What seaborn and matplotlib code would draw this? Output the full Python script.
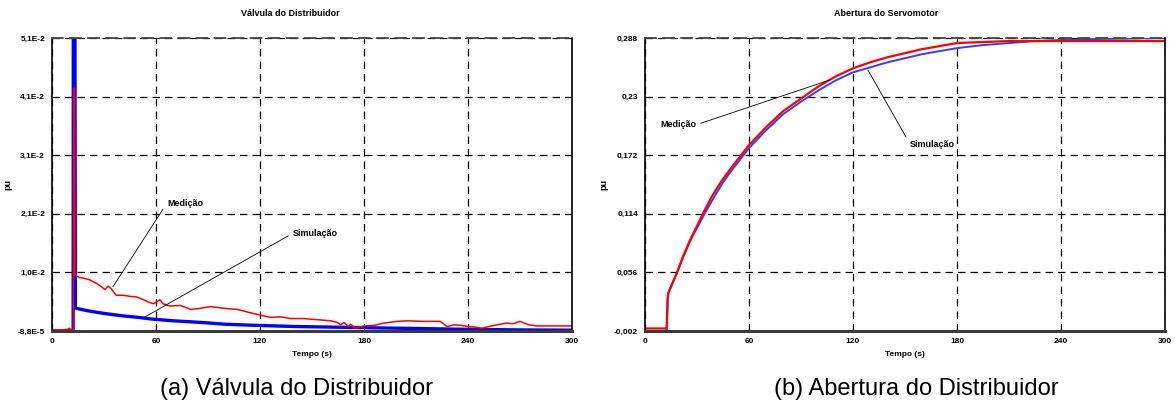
import matplotlib
matplotlib.use("Agg")
import matplotlib.pyplot as plt
import seaborn as sns
import pandas as pd

# ---------------- data ----------------
# Panel (a) Válvula do Distribuidor
t_med_a = [0, 5, 9, 10, 11, 12.4, 12.6, 13.0, 13.3, 14, 16, 18, 21.7, 25.6, 28.5, 30.5,
           32.4, 34, 37, 41, 45, 48.8, 52.7, 56.5, 58.5, 62.3, 64, 68, 74, 80, 85.6,
           91.5, 99, 107, 114.6, 120.4, 126, 132, 137.7, 145, 153, 161, 164.6, 166.5,
           168.5, 171, 172.3, 175, 180, 186, 191.5, 199, 205, 215, 224, 228, 232, 236,
           240, 244, 248, 255, 262, 266, 270, 275, 280, 290, 300]
v_med_a = [0.0001, 0.0001, 0.0002, 0.0004, 0.0001, 0.0001, 0.0426, 0.0426, 0.0100, 0.0096,
           0.0093, 0.0092, 0.0089, 0.0083, 0.0077, 0.0072, 0.0078, 0.0074, 0.0062, 0.0062,
           0.0060, 0.0059, 0.0054, 0.0049, 0.0047, 0.0054, 0.0047, 0.0043, 0.0044, 0.0037,
           0.0039, 0.0042, 0.0039, 0.0037, 0.0031, 0.0027, 0.0023, 0.0024, 0.0021, 0.0021,
           0.0019, 0.0017, 0.0014, 0.0010, 0.0014, 0.0007, 0.0011, 0.0004, 0.0008, 0.0009,
           0.0013, 0.0016, 0.0017, 0.0016, 0.0016, 0.0007, 0.0010, 0.0009, 0.0007, 0.0006,
           0.0004, 0.0009, 0.0013, 0.0012, 0.0016, 0.0010, 0.0008, 0.0008, 0.0008]
t_sim_a = [0, 12.2, 12.3, 13.2, 13.5, 14, 20, 30, 40, 50, 58, 70, 87, 100, 118, 140, 160,
           180, 200, 220, 240, 270, 300]
v_sim_a = [-0.00005, -0.00005, 0.06, 0.06, 0.0040, 0.0039, 0.0035, 0.0030, 0.0026, 0.0023,
           0.0020, 0.0017, 0.0014, 0.0011, 0.0009, 0.0007, 0.0006, 0.0005, 0.0004, 0.0003,
           0.0002, 0.0001, 0.00005]
yticks_a = [-0.000088, 0.0102, 0.0205, 0.0308, 0.0411, 0.0514]
yticklabels_a = ["-8,8E-5", "1,0E-2", "2,1E-2", "3,1E-2", "4,1E-2", "5,1E-2"]

# Panel (b) Abertura do Servomotor
t_med_b = [0, 12.5, 13.0, 13.3, 16, 18.3, 22, 26, 30, 33.5, 38.5, 44, 50, 55, 60, 70, 80,
           90, 100, 110, 120, 130, 140, 150, 160, 170, 180, 195, 210, 240, 270, 300]
v_med_b = [0.0005, 0.0005, 0.030, 0.035, 0.046, 0.055, 0.072, 0.088, 0.102, 0.1145, 0.131,
           0.146, 0.160, 0.171, 0.182, 0.200, 0.216, 0.228, 0.240, 0.250, 0.258, 0.264,
           0.269, 0.273, 0.277, 0.280, 0.283, 0.284, 0.285, 0.285, 0.285, 0.285]
t_sim_b = [0, 12.5, 13.2, 13.6, 16, 18, 22, 26, 30, 35, 40, 45, 50, 55, 60, 70, 80, 90,
           100, 110, 120, 130, 140, 150, 160, 170, 180, 195, 210, 225, 240, 260, 280, 300]
v_sim_b = [-0.002, -0.002, 0.030, 0.036, 0.046, 0.054, 0.071, 0.087, 0.100, 0.116, 0.131,
           0.145, 0.157, 0.168, 0.179, 0.197, 0.213, 0.225, 0.236, 0.246, 0.254, 0.259,
           0.264, 0.268, 0.272, 0.275, 0.278, 0.281, 0.283, 0.285, 0.286, 0.287, 0.2875, 0.288]
yticks_b = [-0.002, 0.056, 0.114, 0.172, 0.23, 0.288]
yticklabels_b = ["-0,002", "0,056", "0,114", "0,172", "0,23", "0,288"]

xticks = [0, 60, 120, 180, 240, 300]
titles = ["Válvula do Distribuidor", "Abertura do Servomotor"]
captions = ["(a) Válvula do Distribuidor", "(b) Abertura do Distribuidor"]
series_names = ["Medição", "Simulação"]

# ---------------- style ----------------
sns.set_style("white")
plt.rcParams["font.family"] = ["Liberation Sans", "DejaVu Sans"]
plt.rcParams["text.color"] = "black"
plt.rcParams["axes.labelcolor"] = "black"
plt.rcParams["xtick.color"] = "black"
plt.rcParams["ytick.color"] = "black"

fig = plt.figure(figsize=(11.75, 4.03), dpi=100)
ax_a = fig.add_axes([52 / 1175, 1 - 331 / 403, 520 / 1175, 293 / 403])
ax_b = fig.add_axes([645 / 1175, 1 - 331 / 403, 520 / 1175, 293 / 403])


def style_axes(ax, yticks, ylabels, ylabel_x):
    ax.set_xlim(0, 300)
    ax.set_ylim(yticks[0], yticks[-1])
    ax.set_xticks(xticks)
    ax.set_xticklabels([str(x) for x in xticks], fontsize=6, fontweight="bold")
    ax.set_yticks(yticks)
    ax.set_yticklabels(ylabels, fontsize=6, fontweight="bold")
    ax.tick_params(axis="both", direction="out", length=3, width=0.8, pad=2,
                   color="black", labelcolor="black")
    ax.grid(True, color="black", linestyle=(0, (6, 4)), linewidth=0.9)
    for side in ["left", "right"]:
        ax.spines[side].set_visible(True)
        ax.spines[side].set_color("black")
        ax.spines[side].set_linewidth(1.2)
    ax.spines["bottom"].set_visible(True)
    ax.spines["bottom"].set_color("#3a3a3a")
    ax.spines["bottom"].set_linewidth(2.2)
    ax.spines["top"].set_visible(True)
    ax.spines["top"].set_color("#444444")
    ax.spines["top"].set_linestyle((0, (6, 4)))
    ax.spines["top"].set_linewidth(1.3)
    ax.set_xlabel("Tempo (s)", fontsize=6, fontweight="bold", labelpad=4, color="black")
    ax.set_ylabel("pu", fontsize=6.5, fontweight="bold", color="black")
    ax.yaxis.set_label_coords(ylabel_x, 0.5)


# panel a
df_sim_a = pd.DataFrame({"t": t_sim_a, "v": v_sim_a})
df_med_a = pd.DataFrame({"t": t_med_a, "v": v_med_a})
sns.lineplot(data=df_sim_a, x="t", y="v", ax=ax_a, sort=False, estimator=None,
             color="#0000ff", linewidth=2.4)
sns.lineplot(data=df_med_a, x="t", y="v", ax=ax_a, sort=False, estimator=None,
             color="#ff0000", linewidth=1.1)
style_axes(ax_a, yticks_a, yticklabels_a, -0.077)

ax_a.annotate(series_names[0], xy=(35.2, 0.0077), xytext=(66.3, 0.0224),
              fontsize=6.5, fontweight="bold", ha="left", va="center", color="black",
              arrowprops=dict(arrowstyle="-", color="black", lw=0.6,
                              shrinkA=1, shrinkB=0, relpos=(0, 0.5)))
ax_a.annotate(series_names[1], xy=(53.7, 0.0024), xytext=(139.0, 0.0171),
              fontsize=6.5, fontweight="bold", ha="left", va="center", color="black",
              arrowprops=dict(arrowstyle="-", color="black", lw=0.6,
                              shrinkA=1, shrinkB=0, relpos=(0, 0.5)))

# panel b
df_sim_b = pd.DataFrame({"t": t_sim_b, "v": v_sim_b})
df_med_b = pd.DataFrame({"t": t_med_b, "v": v_med_b})
sns.lineplot(data=df_sim_b, x="t", y="v", ax=ax_b, sort=False, estimator=None,
             color="#3a3aff", linewidth=1.4)
sns.lineplot(data=df_med_b, x="t", y="v", ax=ax_b, sort=False, estimator=None,
             color="#ff0000", linewidth=1.6)
style_axes(ax_b, yticks_b, yticklabels_b, -0.071)

ax_b.annotate(series_names[0], xy=(106.7, 0.2465), xytext=(29.4, 0.202),
              fontsize=6.5, fontweight="bold", ha="right", va="center", color="black",
              arrowprops=dict(arrowstyle="-", color="black", lw=0.6,
                              shrinkA=1, shrinkB=0, relpos=(1, 0.5)))
ax_b.annotate(series_names[1], xy=(128.7, 0.256), xytext=(152.9, 0.183),
              fontsize=6.5, fontweight="bold", ha="left", va="center", color="black",
              arrowprops=dict(arrowstyle="-", color="black", lw=0.6,
                              shrinkA=1, shrinkB=0, relpos=(0, 0.5)))

# titles and captions
fig.text(290 / 1175, 1 - 14 / 403, titles[0], fontsize=6.5, fontweight="bold",
         ha="center", va="center", color="black")
fig.text(886 / 1175, 1 - 14 / 403, titles[1], fontsize=6.5, fontweight="bold",
         ha="center", va="center", color="black")
fig.text(296.5 / 1175, 1 - 395 / 403, captions[0], fontsize=17, ha="center",
         va="baseline", color="black")
fig.text(916.5 / 1175, 1 - 395 / 403, captions[1], fontsize=17, ha="center",
         va="baseline", color="black")

fig.savefig("out.png", dpi=100)
